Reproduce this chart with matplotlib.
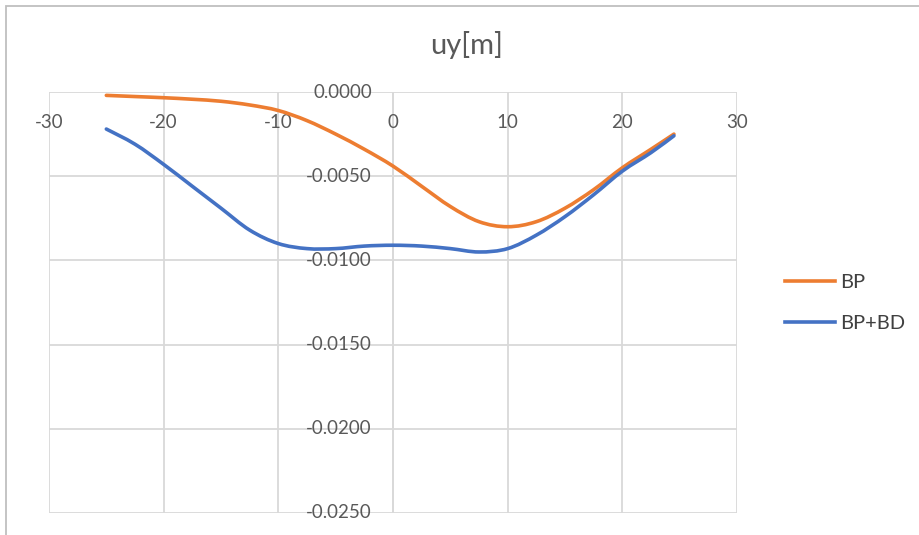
import matplotlib
matplotlib.use("Agg")
import matplotlib.pyplot as plt
import numpy as np
from matplotlib.path import Path
from matplotlib.patches import PathPatch, Rectangle
from matplotlib.lines import Line2D
from matplotlib.transforms import offset_copy

# Position along the section [m]
x_pos = [-25, -22.5, -20, -17.5, -15, -12.5, -10, -7.5, -5, -2.5, 0,
         2.5, 5, 7.5, 10, 12.5, 15, 17.5, 20, 22.5, 24.5]

# Vertical displacement uy [m]
uy_bp = [-0.0002, -0.00027, -0.00034, -0.00043, -0.00055, -0.00077, -0.0011,
         -0.0017, -0.0025, -0.0034, -0.0044, -0.0056, -0.0068, -0.0077,
         -0.0080, -0.0077, -0.0069, -0.0058, -0.0045, -0.0034, -0.0025]
uy_bp_bd = [-0.0022, -0.0031, -0.0043, -0.0056, -0.0069, -0.0082, -0.0090,
            -0.0093, -0.0093, -0.00915, -0.0091, -0.00915, -0.0093, -0.0095,
            -0.0093, -0.0085, -0.0074, -0.0061, -0.0047, -0.0036, -0.0026]

series_names = ["BP", "BP+BD"]
series_colors = ["#ED7D31", "#4472C4"]

x_ticks = [-30, -20, -10, 0, 10, 20, 30]
y_ticks = [0.0, -0.005, -0.010, -0.015, -0.020, -0.025]

plt.rcParams["font.family"] = ["Lato", "DejaVu Sans"]
TXT = "#595959"
GRID = "#D9D9D9"


def smooth_path(xs, ys, tension=1 / 6):
    """Catmull-Rom style smoothed path through the data points."""
    xs = np.asarray(xs, float)
    ys = np.asarray(ys, float)
    n = len(xs)
    verts = [(xs[0], ys[0])]
    codes = [Path.MOVETO]
    for i in range(n - 1):
        p0 = (xs[max(i - 1, 0)], ys[max(i - 1, 0)])
        p1 = (xs[i], ys[i])
        p2 = (xs[i + 1], ys[i + 1])
        p3 = (xs[min(i + 2, n - 1)], ys[min(i + 2, n - 1)])
        c1 = (p1[0] + (p2[0] - p0[0]) * tension, p1[1] + (p2[1] - p0[1]) * tension)
        c2 = (p2[0] - (p3[0] - p1[0]) * tension, p2[1] - (p3[1] - p1[1]) * tension)
        verts += [c1, c2, p2]
        codes += [Path.CURVE4] * 3
    return Path(verts, codes)


fig = plt.figure(figsize=(9.2, 5.35), dpi=100)
ax = fig.add_axes([49 / 920, 1 - 513 / 535, (737 - 49) / 920, (513 - 92) / 535])

ax.set_xlim(-30, 30)
ax.set_ylim(-0.025, 0.0)

for s in ax.spines.values():
    s.set_visible(False)
ax.set_xticks(x_ticks)
ax.set_yticks(y_ticks)
ax.tick_params(length=0, labelbottom=False, labelleft=False)
ax.grid(True, color=GRID, linewidth=1.3)
ax.set_axisbelow(True)
# vertical value axis at x = 0
ax.axvline(0, color=GRID, linewidth=1.3, zorder=1)

# category labels under the horizontal axis (which sits at uy = 0)
x_lab_tr = offset_copy(ax.transData, fig=fig, x=0, y=-30, units="dots")
for xv in x_ticks:
    ax.text(xv, 0.0, f"{xv}", transform=x_lab_tr, ha="center", va="center",
            fontsize=13.5, color=TXT, clip_on=False)

# value labels left of the vertical axis at x = 0
y_lab_tr = offset_copy(ax.transData, fig=fig, x=-21, y=0, units="dots")
for yv in y_ticks:
    ax.text(0, yv, f"{yv:.4f}".replace("-0.0000", "0.0000"), transform=y_lab_tr,
            ha="right", va="center", fontsize=13.5, color=TXT, clip_on=False)

for ys, col in zip([uy_bp, uy_bp_bd], series_colors):
    patch = PathPatch(smooth_path(x_pos, ys), facecolor="none", edgecolor=col,
                      linewidth=2.6, capstyle="round", joinstyle="round", zorder=3)
    ax.add_patch(patch)

fig.text(467 / 920, 1 - 45 / 535, "uy[m]", ha="center", va="center",
         fontsize=21, color=TXT)

handles = [Line2D([], [], color=c, linewidth=2.6) for c in series_colors]
fig.legend(handles, series_names, loc="center left",
           bbox_to_anchor=(785 / 920, 1 - 303 / 535), bbox_transform=fig.transFigure,
           frameon=False, fontsize=14.5, labelcolor="#404040", borderpad=0,
           borderaxespad=0, handlelength=2.48, handletextpad=0.25, labelspacing=1.18)

# chart-area outline
fig.patches.append(Rectangle((6.5 / 920, -0.05), 1.1, 1.05 - 6.5 / 535,
                             transform=fig.transFigure, fill=False,
                             edgecolor="#BFBFBF", linewidth=1.3))

fig.savefig("out.png", dpi=100)
